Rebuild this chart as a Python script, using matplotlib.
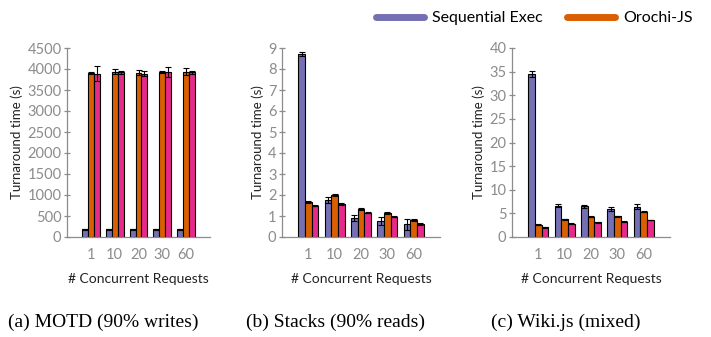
import numpy as np
import matplotlib.pyplot as plt
from matplotlib.lines import Line2D

# data
reqs = ["1", "10", "20", "30", "60"]

motd_seq = [180, 180, 180, 180, 180]
motd_seq_err = [10, 10, 10, 10, 10]
motd_oro = [3900, 3940, 3910, 3930, 3940]
motd_oro_err = [20, 60, 60, 30, 90]
motd_pink = [3890, 3920, 3890, 3930, 3920]
motd_pink_err = [170, 30, 60, 120, 30]

stacks_seq = [8.7, 1.75, 0.9, 0.75, 0.6]
stacks_seq_err = [0.1, 0.15, 0.15, 0.2, 0.25]
stacks_oro = [1.65, 2.0, 1.32, 1.15, 0.82]
stacks_oro_err = [0.05, 0.07, 0.04, 0.05, 0.04]
stacks_pink = [1.5, 1.58, 1.15, 0.97, 0.62]
stacks_pink_err = [0.04, 0.04, 0.03, 0.03, 0.03]

wiki_seq = [34.5, 6.6, 6.5, 5.9, 6.4]
wiki_seq_err = [0.7, 0.3, 0.3, 0.4, 0.5]
wiki_oro = [2.6, 3.8, 4.3, 4.4, 5.3]
wiki_oro_err = [0.1, 0.1, 0.1, 0.1, 0.1]
wiki_pink = [2.1, 2.8, 3.1, 3.2, 3.6]
wiki_pink_err = [0.1, 0.1, 0.1, 0.1, 0.1]

colors = ["#7570b3", "#d95f02", "#e7298a"]
grey = "#8c8c8c"
sans = ["Lato", "DejaVu Sans"]

fig = plt.figure(figsize=(7.11, 3.37), dpi=100)

panels = [
    ([67, 210], (0, 4500), 500, [motd_seq, motd_oro, motd_pink],
     [motd_seq_err, motd_oro_err, motd_pink_err], "(a) MOTD (90% writes)", 8),
    ([282, 440], (0, 9), 1, [stacks_seq, stacks_oro, stacks_pink],
     [stacks_seq_err, stacks_oro_err, stacks_pink_err], "(b) Stacks (90% reads)", 246),
    ([512, 670], (0, 40), 5, [wiki_seq, wiki_oro, wiki_pink],
     [wiki_seq_err, wiki_oro_err, wiki_pink_err], "(c) Wiki.js (mixed)", 491),
]

x = np.arange(1, len(reqs) + 1)
w = 0.25
for (lr, ylim, step, series, errs, caption, capx) in panels:
    ax = fig.add_axes([lr[0] / 711, 1 - 237 / 337, (lr[1] - lr[0]) / 711, (237 - 48) / 337])
    for i in range(3):
        ax.bar(x + (i - 1) * w, series[i], w, color=colors[i], edgecolor="black",
               linewidth=0.8, zorder=2)
        ax.errorbar(x + (i - 1) * w, series[i], yerr=errs[i], fmt="none",
                    ecolor="black", elinewidth=0.8, capsize=2.5, capthick=0.8, zorder=3)
    ax.set_xlim(0, 6)
    ax.set_ylim(*ylim)
    ax.set_yticks(np.arange(ylim[0], ylim[1] + step / 2, step))
    ax.set_xticks(x)
    ax.set_xticklabels(reqs)
    for s in ["top", "right"]:
        ax.spines[s].set_visible(False)
    for s in ["left", "bottom"]:
        ax.spines[s].set_color(grey)
        ax.spines[s].set_linewidth(0.9)
    ax.tick_params(axis="y", colors=grey, labelsize=10.5, length=4, width=0.9,
                   direction="inout", pad=2)
    ax.tick_params(axis="x", colors=grey, labelsize=10.5, length=0, pad=8)
    for lab in ax.get_xticklabels() + ax.get_yticklabels():
        lab.set_family(sans)
    ax.set_ylabel("Turnaround time (s)", fontsize=9.5, family=sans, color="#222222", labelpad=3)
    ax.set_xlabel("# Concurrent Requests", fontsize=10, family=sans, color="#222222", labelpad=8)
    fig.text(capx / 711, 1 - 322 / 337, caption, fontsize=14,
             family="Liberation Serif", va="center", ha="left")

handles = [Line2D([0], [0], color=colors[0], lw=5, solid_capstyle="round"),
           Line2D([0], [0], color=colors[1], lw=5, solid_capstyle="round")]
fig.legend(handles, ["Sequential Exec", "Orochi-JS"], loc="upper left",
           bbox_to_anchor=(362 / 711, 1.01), ncol=2, frameon=False,
           prop={"family": sans, "size": 11.5}, handlelength=3.0,
           columnspacing=1.5, handletextpad=0.5)

fig.savefig("out.png", dpi=100)
